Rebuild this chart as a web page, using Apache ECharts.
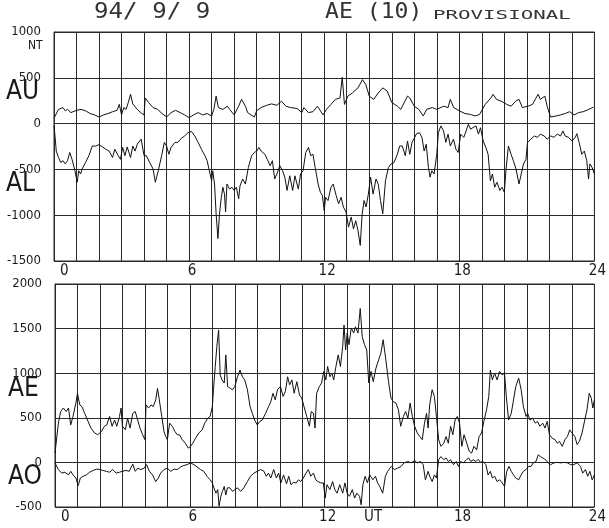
<!DOCTYPE html>
<html><head><meta charset="utf-8">
<script src="https://cdn.jsdelivr.net/npm/echarts@6/dist/echarts.min.js"></script>
<style>html,body{margin:0;padding:0;background:#fff}#c{width:609px;height:528px}</style>
</head><body><div id="c"></div>
<script>
// Hours UT and values (nT)
const hourTicks = [0, 6, 12, 18, 24];
const topYTicks = [1000, 500, 0, -500, -1000, -1500];
const botYTicks = [2000, 1500, 1000, 500, 0, -500];

const AU = [[0,60],[0.2,155],[0.4,175],[0.5,140],[0.6,155],[0.75,120],[1.0,145],[1.2,155],[1.4,140],[1.6,110],[1.8,95],[2.0,72],[2.2,95],[2.4,110],[2.6,130],[2.8,145],[2.9,210],[3.0,95],[3.1,175],[3.2,155],[3.3,230],[3.4,320],[3.5,215],[3.7,155],[3.9,110],[4.0,95],[4.05,280],[4.2,230],[4.4,175],[4.6,155],[4.8,110],[5.0,72],[5.2,120],[5.4,145],[5.6,120],[5.8,95],[6.0,65],[6.2,95],[6.4,120],[6.6,95],[6.8,110],[7.0,83],[7.1,155],[7.2,300],[7.3,175],[7.5,155],[7.7,190],[7.8,155],[8.0,95],[8.2,190],[8.33,265],[8.5,190],[8.6,120],[8.75,95],[8.9,72],[9.0,140],[9.2,175],[9.45,200],[9.66,215],[9.9,200],[10.1,245],[10.3,190],[10.5,175],[10.8,165],[11.0,120],[11.1,175],[11.3,120],[11.5,130],[11.7,190],[11.95,95],[12.1,155],[12.3,210],[12.5,265],[12.7,280],[12.8,505],[12.9,210],[13.05,300],[13.25,335],[13.5,390],[13.7,480],[13.85,425],[14.0,300],[14.2,265],[14.4,335],[14.6,390],[14.8,355],[15.0,230],[15.25,190],[15.4,155],[15.7,300],[15.8,280],[16.0,190],[16.2,155],[16.4,83],[16.55,155],[16.8,175],[17.0,155],[17.3,190],[17.5,175],[17.6,265],[17.75,175],[18.0,140],[18.25,110],[18.5,100],[18.7,83],[18.9,100],[19.15,210],[19.4,280],[19.5,320],[19.65,265],[19.9,240],[20.1,210],[20.3,190],[20.5,245],[20.65,265],[20.8,175],[21.05,190],[21.25,210],[21.5,320],[21.6,265],[21.8,300],[21.9,190],[22.05,72],[22.3,83],[22.5,95],[22.7,110],[22.9,130],[23.1,95],[23.3,120],[23.5,130],[23.75,155],[23.95,180]];

const AL = [[0,-25],[0.05,-150],[0.1,-300],[0.2,-370],[0.3,-425],[0.4,-405],[0.5,-440],[0.6,-405],[0.7,-315],[0.8,-390],[0.93,-515],[1.03,-640],[1.1,-515],[1.18,-550],[1.25,-495],[1.4,-425],[1.55,-350],[1.7,-245],[1.85,-245],[2.0,-230],[2.15,-255],[2.3,-280],[2.45,-300],[2.6,-370],[2.7,-280],[2.85,-350],[2.95,-390],[3.05,-260],[3.15,-350],[3.25,-255],[3.4,-370],[3.5,-245],[3.6,-300],[3.7,-225],[3.87,-170],[4.0,-350],[4.1,-350],[4.25,-425],[4.4,-495],[4.5,-640],[4.63,-515],[4.78,-350],[4.9,-205],[5.0,-245],[5.1,-335],[5.2,-260],[5.37,-205],[5.5,-205],[5.66,-160],[5.8,-135],[5.95,-100],[6.1,-85],[6.25,-135],[6.4,-205],[6.55,-280],[6.7,-350],[6.8,-405],[6.9,-515],[7.0,-625],[7.05,-515],[7.13,-660],[7.2,-985],[7.28,-1255],[7.35,-985],[7.43,-805],[7.5,-695],[7.57,-770],[7.62,-965],[7.68,-660],[7.8,-715],[7.9,-695],[8.0,-730],[8.1,-695],[8.2,-820],[8.26,-680],[8.38,-605],[8.5,-660],[8.63,-480],[8.78,-350],[8.9,-315],[9.0,-300],[9.1,-260],[9.2,-300],[9.37,-335],[9.47,-390],[9.6,-460],[9.7,-405],[9.8,-605],[9.9,-550],[10.03,-460],[10.15,-515],[10.25,-585],[10.35,-730],[10.47,-570],[10.6,-730],[10.7,-570],[10.85,-715],[10.95,-550],[11.06,-515],[11.18,-315],[11.3,-260],[11.4,-350],[11.5,-335],[11.6,-480],[11.73,-660],[11.83,-750],[11.92,-785],[12.0,-950],[12.06,-805],[12.17,-840],[12.3,-695],[12.4,-660],[12.53,-785],[12.64,-875],[12.75,-805],[12.85,-910],[12.97,-965],[13.08,-1130],[13.2,-1020],[13.3,-1150],[13.4,-1060],[13.5,-1165],[13.6,-1330],[13.68,-1000],[13.77,-840],[13.86,-910],[13.96,-770],[14.06,-585],[14.17,-770],[14.3,-605],[14.4,-660],[14.5,-840],[14.6,-985],[14.72,-625],[14.85,-480],[14.97,-440],[15.1,-425],[15.25,-335],[15.35,-245],[15.47,-245],[15.6,-350],[15.7,-190],[15.8,-335],[15.9,-205],[16.0,-160],[16.1,-110],[16.23,-100],[16.34,-150],[16.44,-300],[16.53,-225],[16.63,-480],[16.7,-585],[16.78,-515],[16.88,-550],[17.0,-335],[17.07,-100],[17.18,-25],[17.3,-80],[17.4,-205],[17.5,-115],[17.6,-245],[17.74,-170],[17.85,-280],[17.95,-315],[18.06,-115],[18.2,-150],[18.3,-80],[18.4,-7],[18.5,-60],[18.6,-45],[18.74,-25],[18.85,-115],[18.94,-45],[19.06,-190],[19.18,-260],[19.28,-335],[19.38,-625],[19.47,-550],[19.57,-695],[19.67,-640],[19.8,-730],[19.9,-695],[20.0,-750],[20.07,-515],[20.18,-245],[20.3,-335],[20.4,-405],[20.52,-495],[20.65,-660],[20.75,-550],[20.85,-440],[20.96,-390],[21.03,-205],[21.18,-170],[21.33,-135],[21.47,-150],[21.6,-115],[21.77,-135],[21.9,-170],[22.06,-135],[22.2,-150],[22.35,-115],[22.5,-135],[22.6,-80],[22.7,-135],[22.85,-150],[23.0,-190],[23.15,-150],[23.22,-110],[23.32,-205],[23.44,-335],[23.55,-300],[23.66,-405],[23.74,-605],[23.8,-440],[23.9,-480],[24.0,-550]];

const AE = [[0,105],[0.15,440],[0.25,570],[0.37,610],[0.5,570],[0.6,610],[0.7,420],[0.8,515],[0.93,665],[1.0,775],[1.1,645],[1.2,625],[1.32,550],[1.47,460],[1.6,385],[1.76,330],[1.9,310],[2.06,345],[2.2,405],[2.3,420],[2.43,515],[2.54,405],[2.65,475],[2.75,405],[2.87,515],[2.94,610],[3.0,405],[3.13,365],[3.23,495],[3.34,385],[3.46,550],[3.57,570],[3.68,475],[3.78,385],[3.9,310],[4.0,255],[4.05,645],[4.16,610],[4.27,645],[4.37,625],[4.48,700],[4.56,830],[4.63,720],[4.75,515],[4.85,345],[4.93,290],[5.0,255],[5.1,440],[5.22,405],[5.34,345],[5.44,310],[5.54,310],[5.66,255],[5.8,215],[5.93,160],[6.03,180],[6.13,215],[6.25,270],[6.4,330],[6.55,365],[6.66,440],[6.8,495],[6.9,515],[7.0,625],[7.05,815],[7.13,1075],[7.2,1300],[7.28,1485],[7.35,980],[7.43,925],[7.53,890],[7.6,1205],[7.68,850],[7.8,830],[7.9,815],[8.0,850],[8.12,960],[8.23,1035],[8.34,960],[8.44,925],[8.56,815],[8.68,625],[8.78,550],[8.88,475],[9.0,420],[9.12,460],[9.22,475],[9.37,550],[9.5,625],[9.6,680],[9.7,775],[9.8,700],[9.9,815],[10.03,850],[10.15,740],[10.25,795],[10.35,960],[10.44,870],[10.54,925],[10.64,775],[10.76,905],[10.88,755],[10.98,720],[11.08,625],[11.2,515],[11.32,405],[11.4,570],[11.5,550],[11.57,385],[11.64,775],[11.76,850],[11.86,890],[11.96,1020],[12.05,925],[12.13,1075],[12.23,960],[12.32,1000],[12.4,925],[12.5,1075],[12.6,1205],[12.7,1075],[12.8,1300],[12.86,1540],[12.93,1260],[13.0,1450],[13.08,1320],[13.18,1505],[13.29,1450],[13.37,1520],[13.48,1450],[13.58,1725],[13.67,1410],[13.77,1320],[13.87,1260],[13.96,890],[14.06,1020],[14.16,905],[14.28,1055],[14.4,1150],[14.5,1225],[14.6,1375],[14.72,1150],[14.84,905],[14.95,720],[15.05,680],[15.17,665],[15.28,590],[15.38,405],[15.5,515],[15.6,570],[15.7,495],[15.8,665],[15.9,515],[16.0,405],[16.12,330],[16.23,290],[16.34,255],[16.44,440],[16.53,550],[16.6,385],[16.67,645],[16.78,815],[16.88,740],[16.97,515],[17.07,255],[17.17,180],[17.3,215],[17.4,290],[17.5,215],[17.6,405],[17.7,310],[17.8,475],[17.9,515],[18.0,440],[18.1,180],[18.2,310],[18.32,215],[18.43,125],[18.54,105],[18.64,180],[18.76,140],[18.87,290],[18.98,330],[19.08,460],[19.2,590],[19.3,740],[19.37,1035],[19.46,925],[19.56,1000],[19.67,925],[19.78,1020],[19.9,980],[20.0,1000],[20.08,740],[20.18,475],[20.3,550],[20.4,700],[20.5,850],[20.63,945],[20.74,815],[20.84,625],[20.96,515],[21.03,550],[21.13,475],[21.25,495],[21.37,440],[21.47,460],[21.57,405],[21.7,440],[21.8,385],[21.9,460],[22.0,310],[22.13,270],[22.25,255],[22.35,215],[22.45,235],[22.57,180],[22.69,255],[22.8,290],[22.9,365],[23.0,330],[23.13,290],[23.23,200],[23.33,235],[23.45,330],[23.57,475],[23.67,590],[23.77,775],[23.86,720],[23.93,610],[24.0,700]];

const AO = [[0,-5],[0.15,-80],[0.3,-120],[0.44,-110],[0.6,-140],[0.7,-100],[0.8,-140],[0.93,-175],[1.03,-260],[1.13,-175],[1.25,-155],[1.4,-140],[1.54,-110],[1.7,-90],[1.85,-75],[2.0,-80],[2.13,-90],[2.28,-100],[2.43,-110],[2.57,-80],[2.72,-120],[2.87,-110],[3.0,-100],[3.16,-90],[3.3,-100],[3.46,-20],[3.57,-100],[3.68,-65],[3.82,-80],[3.97,-65],[4.07,-25],[4.2,-100],[4.34,-140],[4.48,-215],[4.6,-175],[4.7,-120],[4.85,-80],[5.0,-65],[5.15,-100],[5.3,-75],[5.44,-80],[5.6,-50],[5.73,-35],[5.88,-25],[6.03,-5],[6.18,-25],[6.32,-50],[6.47,-80],[6.62,-100],[6.76,-155],[6.9,-195],[7.0,-230],[7.07,-285],[7.16,-345],[7.24,-305],[7.3,-490],[7.38,-380],[7.45,-325],[7.53,-270],[7.6,-365],[7.67,-285],[7.78,-285],[7.9,-325],[8.0,-305],[8.12,-285],[8.26,-325],[8.4,-285],[8.56,-215],[8.7,-155],[8.85,-120],[9.0,-100],[9.15,-80],[9.3,-100],[9.4,-155],[9.5,-120],[9.6,-175],[9.73,-80],[9.85,-175],[9.95,-120],[10.05,-230],[10.17,-140],[10.3,-240],[10.4,-155],[10.5,-250],[10.6,-225],[10.73,-230],[10.83,-195],[10.93,-215],[11.05,-175],[11.17,-120],[11.27,-80],[11.38,-155],[11.5,-120],[11.6,-195],[11.7,-215],[11.82,-230],[11.94,-230],[12.02,-400],[12.1,-250],[12.23,-305],[12.35,-215],[12.45,-305],[12.55,-345],[12.67,-250],[12.8,-345],[12.9,-230],[13.0,-345],[13.1,-380],[13.23,-305],[13.33,-400],[13.43,-345],[13.55,-380],[13.62,-475],[13.7,-250],[13.8,-155],[13.9,-230],[14.0,-140],[14.14,-195],[14.26,-155],[14.35,-230],[14.45,-270],[14.58,-345],[14.7,-155],[14.8,-100],[14.96,-45],[15.1,-80],[15.24,-65],[15.4,-45],[15.53,-5],[15.7,10],[15.84,-5],[16.0,20],[16.12,-5],[16.26,10],[16.38,-25],[16.48,-195],[16.6,-100],[16.67,-155],[16.78,-215],[16.88,-140],[16.97,-175],[17.07,30],[17.17,65],[17.3,30],[17.4,50],[17.5,10],[17.6,30],[17.73,-25],[17.85,10],[17.95,-45],[18.05,10],[18.17,-5],[18.3,30],[18.4,50],[18.5,10],[18.6,30],[18.73,10],[18.83,35],[18.93,0],[19.05,10],[19.17,-25],[19.27,-140],[19.37,-100],[19.46,-175],[19.56,-155],[19.67,-215],[19.78,-195],[19.9,-230],[20.0,-270],[20.1,-100],[20.2,-45],[20.3,-100],[20.4,-140],[20.5,-175],[20.63,-195],[20.74,-140],[20.84,-100],[20.96,-80],[21.07,-45],[21.18,-45],[21.28,-5],[21.4,10],[21.5,85],[21.6,65],[21.7,50],[21.83,30],[21.94,-5],[22.05,-25],[22.2,-5],[22.35,0],[22.5,-5],[22.64,0],[22.8,-5],[22.94,-25],[23.08,-25],[23.23,-5],[23.38,-45],[23.48,-120],[23.6,-80],[23.7,-155],[23.8,-100],[23.9,-195],[24.0,-140]];

const FONT = "'Liberation Sans Narrow','DejaVu Sans Condensed','DejaVu Sans',sans-serif";
const MONO = "'DejaVu Sans Mono','Liberation Mono',monospace";
const INK = '#1a1a1a';
const GRIDC = '#2a2a2a';

const chart = echarts.init(document.getElementById('c'), null, {renderer: 'canvas'});

function xAxis(gi) {
  return {
    type: 'value', gridIndex: gi, min: 0, max: 24, interval: 1,
    axisLine: {show: true, lineStyle: {color: GRIDC, width: 1}},
    axisTick: {show: false},
    splitLine: {show: true, lineStyle: {color: GRIDC, width: 1}},
    axisLabel: {
      color: INK, fontFamily: FONT, fontSize: 15, margin: 3,
      formatter: v => (hourTicks.indexOf(v) >= 0 ? String(v) : ''),
      alignMinLabel: 'left', padding: [0, 0, 0, 6]
    }
  };
}
function yAxis(gi, min, max, ticks) {
  return {
    type: 'value', gridIndex: gi, min: min, max: max, interval: 500,
    axisLine: {show: true, lineStyle: {color: GRIDC, width: 1}},
    axisTick: {show: false},
    splitLine: {show: true, lineStyle: {color: GRIDC, width: 1}},
    axisLabel: {
      color: INK, fontFamily: FONT, fontSize: 13, margin: 13,
      padding: [0, 0, 7, 0],
      formatter: v => (ticks.indexOf(v) >= 0 ? String(v) : '')
    }
  };
}
function line(name, data, xi, yi) {
  return {
    name: name, type: 'line', xAxisIndex: xi, yAxisIndex: yi, data: data,
    showSymbol: false, symbol: 'none', animation: false,
    lineStyle: {color: '#111', width: 1}
  };
}

function txt(x, y, s, size, family, sx, fill) {
  return {
    type: 'text', x: x, y: y, silent: true, scaleX: sx || 1,
    style: {text: s, fill: fill || INK, font: `${size}px ${family || FONT}`}
  };
}

chart.setOption({
  backgroundColor: '#fff',
  animation: false,
  grid: [
    {left: 54, right: 9, top: 32, height: 229, show: true, borderColor: GRIDC, borderWidth: 1},
    {left: 55, right: 8, top: 284, height: 223, show: true, borderColor: GRIDC, borderWidth: 1}
  ],
  xAxis: [xAxis(0), xAxis(1)],
  yAxis: [yAxis(0, -1500, 1000, topYTicks), yAxis(1, -500, 2000, botYTicks)],
  series: [
    line('AU', AU, 0, 0),
    line('AL', AL, 0, 0),
    line('AE', AE, 1, 1),
    line('AO', AO, 1, 1)
  ],
  graphic: [
    txt(94, 2, '94/ 9/ 9', 21, MONO, 1.15, '#333'),
    txt(325, 2, 'AE (10)', 21, MONO, 1.1, '#333'),
    txt(433, 9, 'PROVISIONAL', 13, MONO, 1.6, '#333'),
    txt(28, 40, 'NT', 12),
    txt(6, 79, 'AU', 26),
    txt(6, 171, 'AL', 26),
    txt(8, 376, 'AE', 26),
    txt(8, 464, 'AO', 26),
    txt(364, 510, 'UT', 15)
  ]
});
</script>
</body></html>
